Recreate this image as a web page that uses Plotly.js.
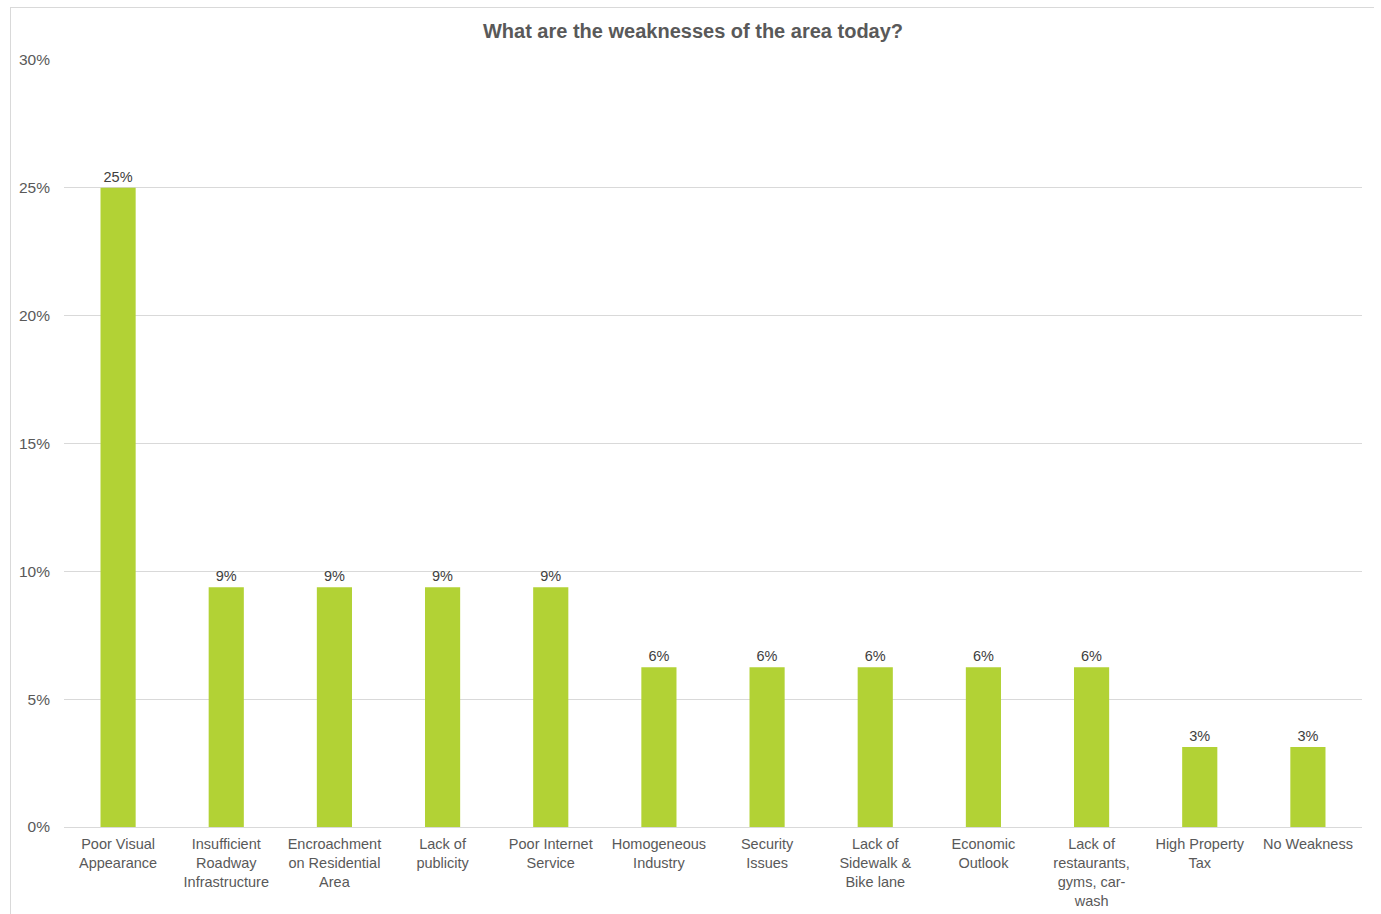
<!DOCTYPE html>
<html>
<head>
<meta charset="utf-8">
<script src="https://cdn.plot.ly/plotly-3.0.1.min.js"></script>
<style>
  html, body { margin: 0; padding: 0; background: #ffffff; overflow: hidden; }
  #frame { position: absolute; left: 10px; top: 7px; width: 1364px; height: 920px; border: 1px solid #d9d9d9; box-sizing: border-box; background: #fff; }
  #chart { position: absolute; left: 0; top: 0; width: 1364px; height: 907px; }
</style>
</head>
<body>
<div id="frame"><div id="chart"></div></div>
<script>
const categories = [
  "Poor Visual<br>Appearance",
  "Insufficient<br>Roadway<br>Infrastructure",
  "Encroachment<br>on Residential<br>Area",
  "Lack of<br>publicity",
  "Poor Internet<br>Service",
  "Homogeneous<br>Industry",
  "Security<br>Issues",
  "Lack of<br>Sidewalk &<br>Bike lane",
  "Economic<br>Outlook",
  "Lack of<br>restaurants,<br>gyms, car-<br>wash",
  "High Property<br>Tax",
  "No Weakness"
];
const values = [25, 9.375, 9.375, 9.375, 9.375, 6.25, 6.25, 6.25, 6.25, 6.25, 3.125, 3.125];
const yTicks = [0, 5, 10, 15, 20, 25, 30];

const trace = {
  type: 'bar',
  x: categories,
  y: values,
  marker: { color: '#b2d235' },
  texttemplate: '%{y:.0f}%',
  textposition: 'outside',
  constraintext: 'none',
  cliponaxis: false,
  textfont: { family: 'Liberation Sans, Arial, sans-serif', size: 14.5, color: '#404040' },
  hoverinfo: 'none'
};

const layout = {
  width: 1364,
  height: 907,
  margin: { l: 53, r: 13, t: 52, b: 88 },
  paper_bgcolor: '#ffffff',
  plot_bgcolor: '#ffffff',
  bargap: 0.675,
  showlegend: false,
  font: { family: 'Liberation Sans, Arial, sans-serif', size: 13, color: '#595959' },
  title: {
    text: '<b>What are the weaknesses of the area today?</b>',
    font: { family: 'Liberation Sans, Arial, sans-serif', size: 20, color: '#595959' },
    x: 0.5, xref: 'container', xanchor: 'center',
    y: 0.975, yref: 'container', yanchor: 'middle'
  },
  xaxis: {
    type: 'category',
    tickfont: { size: 14.5, color: '#595959' },
    tickangle: 0,
    showgrid: false,
    showline: true,
    linecolor: '#d9d9d9',
    linewidth: 1,
    ticks: '',
    ticklabelstandoff: 4
  },
  yaxis: {
    range: [0, 30],
    tickvals: yTicks,
    ticktext: yTicks.map(v => v + '%'),
    tickfont: { size: 15.5, color: '#595959' },
    showgrid: true,
    gridcolor: '#d9d9d9',
    gridwidth: 1,
    zeroline: false,
    showline: false,
    ticks: '',
    ticklabelstandoff: 13
  }
};

Plotly.newPlot('chart', [trace], layout, { displayModeBar: false, staticPlot: true });
</script>
</body>
</html>
